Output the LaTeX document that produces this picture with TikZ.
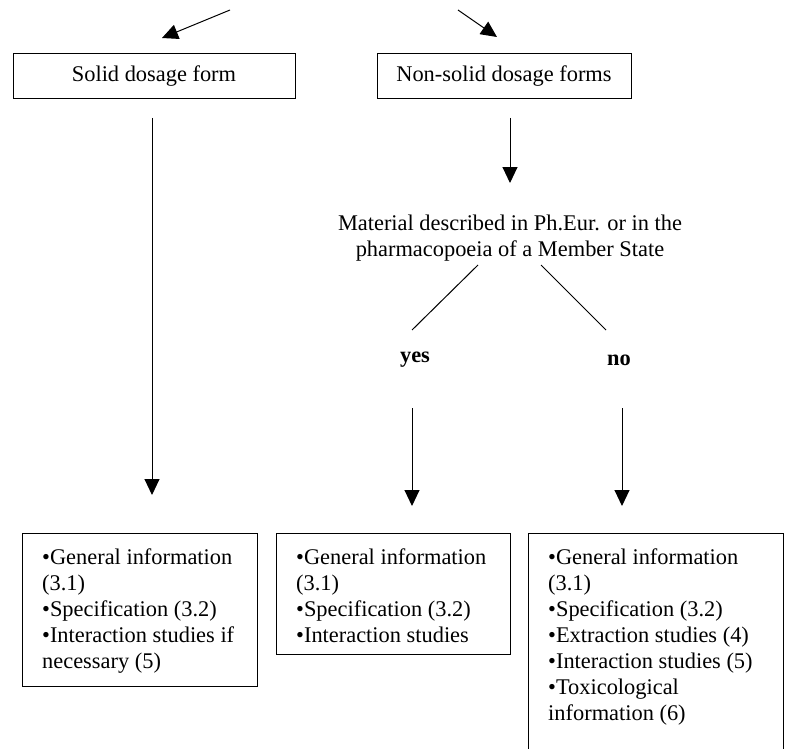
\documentclass[tikz,border=0pt]{standalone}
\usepackage{fontspec}
\setmainfont{Liberation Serif}
\usetikzlibrary{arrows.meta}
\begin{document}
\begin{tikzpicture}[x=1pt,y=-1pt,
    every node/.style={font=\fontsize{22.4}{26}\selectfont},
    formbox/.style={draw,line width=1pt,minimum width=282pt,minimum height=45pt,inner sep=0pt},
    infobox/.style={draw,line width=1pt,anchor=north west,inner sep=0pt},
    infotext/.style={align=left,anchor=north west,inner sep=0pt},
    arrow/.style={line width=1pt,-{Triangle[length=16pt,width=15pt]}}]
  \useasboundingbox (0,0) rectangle (787,749);
  \clip (0,0) rectangle (787,749);
  % top boxes
  \node[formbox] (solid) at (154,76.5) {\raisebox{-2pt}{Solid dosage form}};
  \node[formbox,minimum width=254pt] (nonsolid) at (504,76.5) {\raisebox{-2pt}{Non-solid dosage forms}};
  \coordinate (inl) at (230,10);
  \coordinate (tipl) at (162,38);
  \coordinate (inr) at (458,10);
  \coordinate (tipr) at (497,37);
  \draw[arrow] (inl) -- (tipl);
  \draw[arrow] (inr) -- (tipr);
  % question
  \node[align=center] (material) at (510,238)
    {Material described in Ph.Eur. or in the\\pharmacopoeia of a Member State};
  \node[font=\fontsize{22.4}{26}\selectfont\bfseries] (yes) at (415,360) {yes};
  \node[font=\fontsize{22.4}{26}\selectfont\bfseries] (no) at (619,360) {no};
  \coordinate (m1) at (478,265);
  \coordinate (m2) at (541,265);
  \coordinate (y1) at (412,330);
  \coordinate (n1) at (606,330);
  \begin{scope}[line width=1pt]
    \draw (m1) -- (y1);
    \draw (m2) -- (n1);
  \end{scope}
  % result boxes
  \node[infobox,minimum width=235pt,minimum height=153pt] (res1) at (22,533) {};
  \node[infobox,minimum width=234pt,minimum height=121pt] (res2) at (276,533) {};
  \node[infobox,minimum width=255pt,minimum height=260pt] (res3) at (528,533) {};
  \node[infotext] (txt1) at (42,549)
    {\textbullet General information\\(3.1)\\\textbullet Specification (3.2)\\\textbullet Interaction studies if\\necessary (5)};
  \node[infotext] (txt2) at (296,549)
    {\textbullet General information\\(3.1)\\\textbullet Specification (3.2)\\\textbullet Interaction studies};
  \node[infotext] (txt3) at (548,549)
    {\textbullet General information\\(3.1)\\\textbullet Specification (3.2)\\\textbullet Extraction studies (4)\\\textbullet Interaction studies (5)\\\textbullet Toxicological\\information (6)};
  % arrows down
  \coordinate (s1) at (152,118);
  \coordinate (s2) at (152,495);
  \coordinate (ns1) at (510,118);
  \coordinate (ns2) at (510,183);
  \coordinate (ya) at (412,408);
  \coordinate (yb) at (412,506);
  \coordinate (na) at (622,408);
  \coordinate (nb) at (622,506);
  \draw[arrow] (s1) -- (s2);
  \draw[arrow] (ns1) -- (ns2);
  \draw[arrow] (ya) -- (yb);
  \draw[arrow] (na) -- (nb);
\end{tikzpicture}
\end{document}
